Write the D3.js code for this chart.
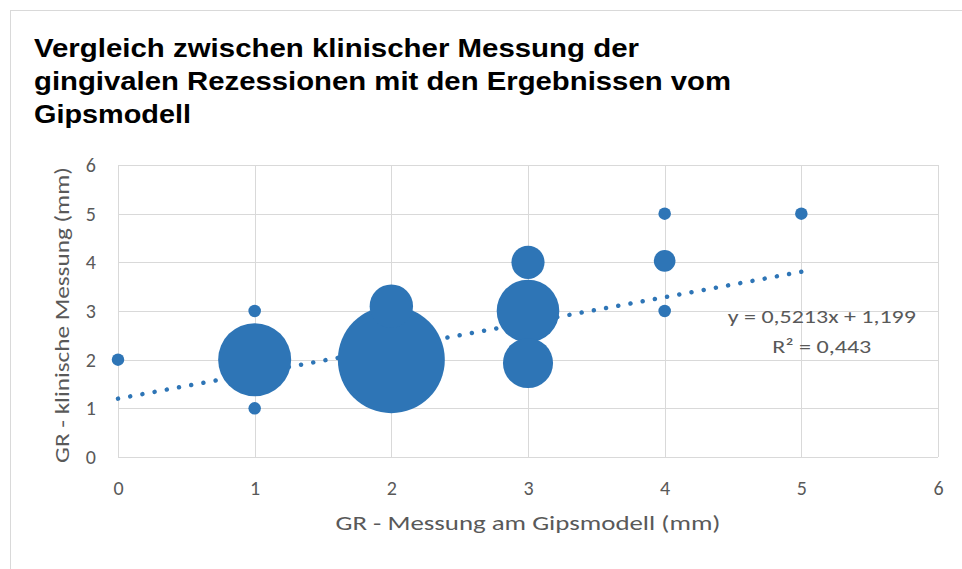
<!DOCTYPE html>
<html>
<head>
<meta charset="utf-8">
<script src="https://cdn.jsdelivr.net/npm/d3@7"></script>
<style>
  body { margin: 0; background: #fff; }
  svg { display: block; }
</style>
</head>
<body>
<div id="chart"></div>
<script>
// bubble data: x = plaster model, y = clinical, size = count
const xVals = [0, 1, 1, 1, 2, 2, 3, 3, 3, 4, 4, 4, 5];
const yVals = [2, 1, 2, 3, 2, 3.1, 1.93, 3, 4, 3, 4.03, 5, 5];
const sizes = [1, 1, 34, 1, 73, 12, 16, 25, 7, 1, 3, 1, 1];
const xTicks = [0, 1, 2, 3, 4, 5, 6];
const yTicks = [0, 1, 2, 3, 4, 5, 6];
const trendSlope = 0.5213;
const trendIntercept = 1.199;
const trendRange = [0, 5];
const titleLines = [
  "Vergleich zwischen klinischer Messung der",
  "gingivalen Rezessionen mit den Ergebnissen vom",
  "Gipsmodell"
];

const width = 962, height = 569;
const margin = { left: 118, right: 24, top: 165, bottom: 112 };
const innerW = width - margin.left - margin.right;
const innerH = height - margin.top - margin.bottom;
const blue = "#2E75B6", grid = "#d9d9d9", textCol = "#595959";
const font = "Carlito, 'Liberation Sans Narrow', 'Open Sans', sans-serif";

const svg = d3.select("#chart").append("svg")
  .attr("width", width).attr("height", height);

// chart frame
svg.append("rect")
  .attr("x", 10.5).attr("y", 10.5)
  .attr("width", 1000).attr("height", 700)
  .attr("fill", "none").attr("stroke", grid);

// title
const titleW = [605, 697, 157];
svg.append("g").selectAll("text").data(titleLines).join("text")
  .attr("x", 34)
  .attr("y", (d, i) => 57 + i * 33)
  .attr("font-family", "'Liberation Sans Narrow', 'Liberation Sans', Arial, sans-serif")
  .attr("font-weight", "bold")
  .attr("font-size", 26)
  .attr("fill", "#000")
  .attr("textLength", (d, i) => titleW[i])
  .attr("lengthAdjust", "spacingAndGlyphs")
  .text(d => d);

const x = d3.scaleLinear().domain([0, 6]).range([0, innerW]);
const y = d3.scaleLinear().domain([0, 6]).range([innerH, 0]);
const r = d3.scaleSqrt().domain([0, d3.max(sizes)]).range([0, 53.5]);

const g = svg.append("g")
  .attr("transform", `translate(${margin.left},${margin.top})`);

// gridlines
g.append("g").selectAll("line").data(yTicks).join("line")
  .attr("x1", 0).attr("x2", innerW)
  .attr("y1", d => Math.round(y(d)) + 0.5).attr("y2", d => Math.round(y(d)) + 0.5)
  .attr("stroke", grid).attr("stroke-width", 1);
g.append("g").selectAll("line").data(xTicks).join("line")
  .attr("y1", 0).attr("y2", innerH)
  .attr("x1", d => Math.round(x(d)) + 0.5).attr("x2", d => Math.round(x(d)) + 0.5)
  .attr("stroke", grid).attr("stroke-width", 1);

// axes (labels only)
const axisX = g.append("g")
  .attr("transform", `translate(0,${innerH})`)
  .call(d3.axisBottom(x).tickValues(xTicks).tickSize(0).tickPadding(24).tickFormat(d3.format("d")));
const axisY = g.append("g")
  .call(d3.axisLeft(y).tickValues(yTicks).tickSize(0).tickPadding(22).tickFormat(d3.format("d")));
[axisX, axisY].forEach(a => {
  a.select(".domain").remove();
  a.selectAll("text")
    .attr("font-family", font)
    .attr("font-size", 20)
    .attr("fill", textCol);
});

// trendline
const trendData = trendRange.map(v => [v, trendIntercept + trendSlope * v]);
g.append("path")
  .datum(trendData)
  .attr("d", d3.line().x(d => x(d[0])).y(d => y(d[1])))
  .attr("fill", "none")
  .attr("stroke", blue)
  .attr("stroke-width", 4.5)
  .attr("stroke-linecap", "round")
  .attr("stroke-dasharray", "0.01 12.4");

// bubbles
const pts = xVals.map((v, i) => ({ x: v, y: yVals[i], s: sizes[i] }))
  .sort((a, b) => b.s - a.s);
g.append("g").selectAll("circle").data(pts).join("circle")
  .attr("cx", d => x(d.x))
  .attr("cy", d => y(d.y))
  .attr("r", d => r(d.s))
  .attr("fill", blue);

// equation label
const eq = g.append("text")
  .attr("font-family", font)
  .attr("font-size", 19)
  .attr("fill", textCol)
  .attr("text-anchor", "middle");
eq.append("tspan")
  .attr("x", x(5.15)).attr("y", y(trendIntercept + trendSlope * 5) + 51)
  .attr("textLength", 188).attr("lengthAdjust", "spacingAndGlyphs")
  .text("y = 0,5213x + 1,199");
eq.append("tspan")
  .attr("x", x(5.15)).attr("y", y(trendIntercept + trendSlope * 5) + 81)
  .attr("textLength", 99).attr("lengthAdjust", "spacingAndGlyphs")
  .text("R² = 0,443");

// axis titles
svg.append("text")
  .attr("x", margin.left + x(3)).attr("y", 530)
  .attr("text-anchor", "middle")
  .attr("font-family", font).attr("font-size", 20)
  .attr("fill", textCol)
  .attr("textLength", 385).attr("lengthAdjust", "spacingAndGlyphs")
  .text("GR - Messung am Gipsmodell (mm)");

svg.append("text")
  .attr("transform", `translate(69,${margin.top + innerH / 2 + 4}) rotate(-90)`)
  .attr("text-anchor", "middle")
  .attr("font-family", font).attr("font-size", 20)
  .attr("fill", textCol)
  .attr("textLength", 296).attr("lengthAdjust", "spacingAndGlyphs")
  .text("GR - klinische Messung (mm)");
</script>
</body>
</html>
